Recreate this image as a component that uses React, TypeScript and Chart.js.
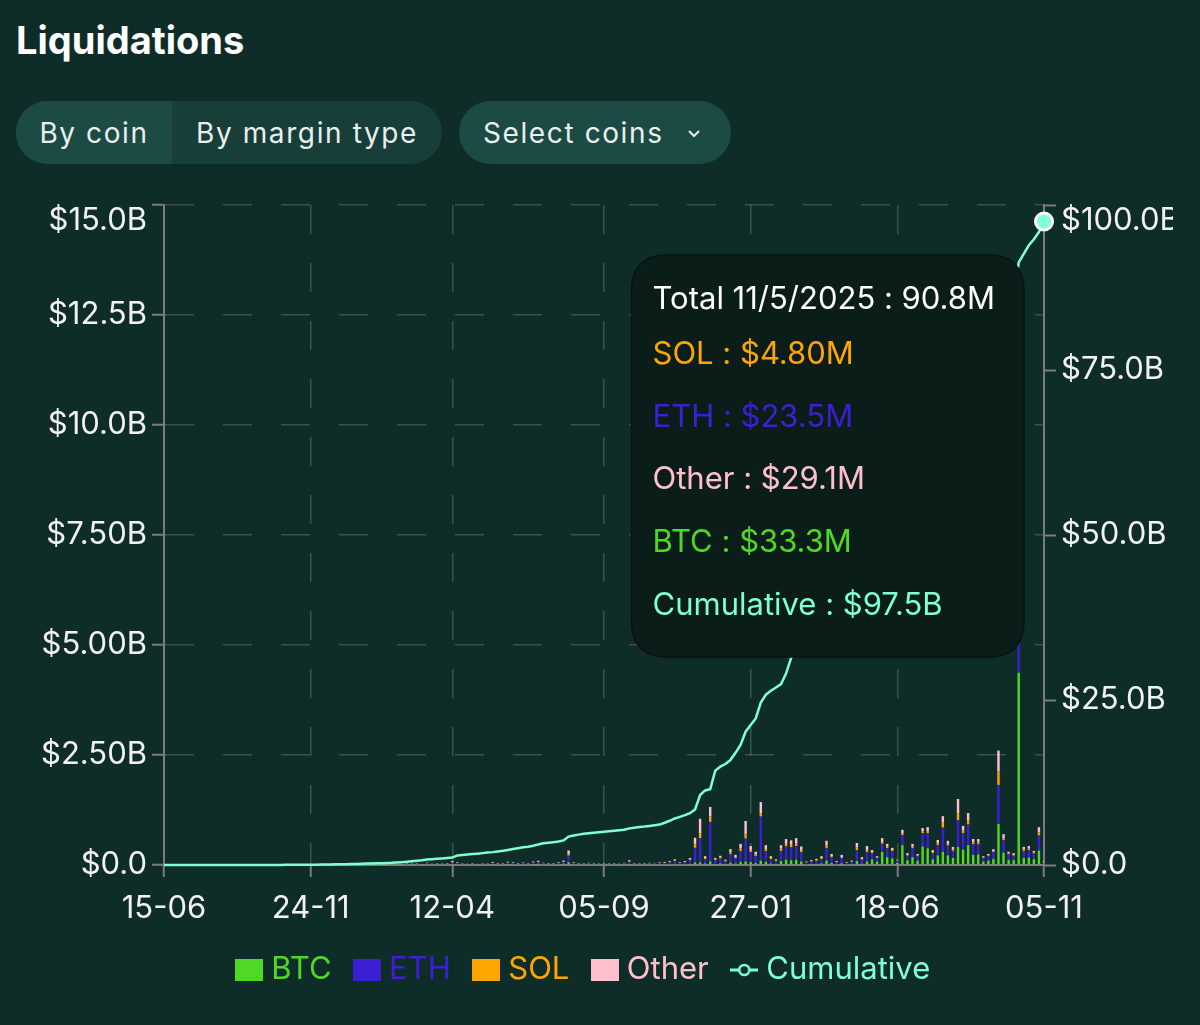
import React, { useEffect, useRef } from "react";
import { Chart, registerables, Tooltip } from "chart.js";

Chart.register(...registerables);

// ---------- data (bar values in $M, cumulative in $B) ----------
const LAST_DATE = "11/5/2025";
const TICK_INDEX = [0, 29, 57, 87, 116, 145, 174];
const TICK_LABELS = ["15-06", "24-11", "12-04", "05-09", "27-01", "18-06", "05-11"];

const BTC = [
  1, 0, 1, 1, 0, 1, 0, 1, 1, 0, 1, 0, 1, 1, 0, 1, 0, 1, 1, 0, 1, 0,
  1, 1, 1, 1, 1, 2, 1, 2, 2, 2, 2, 3, 2, 3, 2, 2, 4, 3, 4, 3, 4, 3, 5, 3, 6, 8,
  14, 9, 11, 8, 16, 8, 10, 9, 12, 25, 18, 10, 8, 12, 8, 10, 9, 20, 11, 13, 22, 18, 12, 16, 10, 24, 28, 15, 12, 10, 18, 30,
  60, 12, 9, 7, 10, 8, 6, 9, 7, 8, 6, 10, 22, 9, 7, 8, 10, 6, 12, 14,
  15, 20, 10, 15, 25, 60, 60, 35, 80, 25, 35, 20, 55, 35, 70, 80, 65, 45, 100, 70,
  35, 25, 90, 120, 110, 120, 80, 15, 20, 25, 35, 100, 45, 15, 40, 12, 18, 90, 30, 80,
  130, 80, 300, 180, 150, 50, 450, 110, 180, 100, 420, 380, 130, 220, 300, 220, 160, 410, 350, 450,
  230, 240, 80, 100, 140, 930, 280, 120, 110, 4370, 160, 170, 130, 330, 33.33,
];
const ETH = [
  0, 1, 1, 0, 1, 0, 1, 0, 1, 1, 0, 1, 0, 0, 1, 1, 0, 0, 1, 1, 0, 1,
  1, 0, 1, 1, 0, 1, 1, 2, 1, 2, 2, 2, 1, 3, 2, 2, 3, 2, 4, 3, 3, 2, 4, 3, 5, 7,
  16, 11, 14, 9, 20, 10, 13, 11, 15, 30, 21, 11, 10, 14, 9, 13, 11, 25, 14, 16, 27, 21, 14, 20, 13, 28, 34, 18, 14, 13, 21, 36,
  150, 27, 20, 16, 23, 18, 14, 20, 16, 18, 14, 23, 50, 20, 16, 18, 23, 14, 27, 31,
  45, 65, 30, 45, 80, 330, 550, 100, 900, 80, 110, 60, 190, 120, 250, 520, 230, 160, 1000, 240,
  100, 65, 230, 300, 290, 310, 210, 40, 55, 70, 100, 280, 125, 45, 115, 35, 50, 250, 90, 215,
  130, 75, 180, 200, 160, 45, 230, 100, 200, 95, 300, 340, 140, 230, 550, 220, 160, 610, 370, 470,
  240, 230, 80, 100, 150, 890, 280, 120, 100, 1400, 160, 170, 130, 340, 23.52,
];
const SOL = [
  0, 0, 0, 0, 0, 0, 0, 0, 0, 0, 0, 0, 0, 0, 0, 0, 0, 0, 0, 0, 0, 0,
  0, 0, 0, 0, 0, 0, 0, 0, 0, 1, 0, 1, 0, 0, 1, 0, 0, 1, 1, 0, 1, 0, 1, 1, 1, 1,
  3, 2, 3, 2, 4, 2, 3, 2, 3, 8, 5, 3, 2, 3, 2, 3, 2, 6, 3, 4, 6, 5, 3, 4, 3, 7, 8, 4, 3, 3, 5, 8,
  30, 6, 5, 3, 5, 4, 3, 5, 3, 4, 3, 5, 11, 5, 3, 4, 5, 3, 6, 7,
  10, 15, 6, 10, 20, 80, 100, 25, 120, 20, 25, 15, 40, 25, 55, 100, 45, 30, 80, 50,
  25, 15, 50, 60, 60, 70, 50, 8, 12, 15, 20, 60, 25, 10, 25, 8, 10, 55, 20, 45,
  30, 15, 40, 35, 30, 10, 45, 20, 35, 20, 40, 50, 25, 45, 110, 40, 35, 160, 60, 100,
  45, 45, 15, 20, 25, 300, 50, 20, 20, 120, 35, 35, 25, 70, 4.804,
];
const OTHER = [
  0, 0, 0, 0, 0, 1, 0, 0, 0, 0, 1, 0, 0, 0, 0, 0, 1, 0, 0, 0, 0, 0,
  1, 1, 2, 1, 1, 2, 2, 2, 2, 2, 2, 2, 2, 3, 2, 2, 3, 2, 3, 3, 3, 3, 4, 3, 4, 6,
  12, 8, 10, 6, 15, 8, 9, 8, 12, 27, 16, 8, 8, 11, 6, 9, 8, 19, 10, 12, 20, 16, 11, 15, 9, 21, 25, 13, 11, 9, 16, 26,
  90, 15, 11, 9, 12, 10, 7, 11, 9, 10, 7, 12, 27, 11, 9, 10, 12, 7, 15, 18,
  20, 30, 14, 20, 35, 150, 340, 40, 220, 35, 40, 25, 75, 50, 105, 300, 90, 65, 250, 90,
  40, 25, 80, 110, 100, 110, 80, 17, 23, 30, 45, 110, 55, 20, 50, 15, 22, 105, 40, 90,
  50, 30, 90, 65, 50, 15, 75, 40, 65, 35, 80, 90, 45, 75, 150, 70, 55, 320, 110, 160,
  75, 75, 25, 30, 45, 480, 90, 40, 40, 150, 55, 55, 35, 120, 29.12,
];
const CUMULATIVE = [
  0, 0, 0, 0, 0, 0, 0, 0, 0, 0, 0, 0, 0, 0, 0, 0, 0, 0, 0, 0, 0, 0,
  0.01, 0.01, 0.02, 0.02, 0.02, 0.03, 0.03,
  0.04, 0.05, 0.06, 0.07, 0.09, 0.1, 0.12, 0.13, 0.15, 0.17, 0.19, 0.21, 0.24, 0.26, 0.28,
  0.31, 0.33, 0.37, 0.42, 0.48, 0.56, 0.64, 0.72, 0.82, 0.88, 0.94, 1.0, 1.06, 1.12,
  1.45, 1.52, 1.58, 1.65, 1.72, 1.8, 1.88, 1.95, 2.05, 2.15, 2.28, 2.42, 2.55, 2.68, 2.78,
  2.92, 3.12, 3.28, 3.38, 3.46, 3.55, 3.72,
  4.3, 4.48, 4.6, 4.72, 4.8, 4.88, 4.96, 5.05, 5.12, 5.2, 5.28, 5.34, 5.55, 5.66, 5.74, 5.82, 5.92, 6.02, 6.12, 6.4,
  6.7, 7.05, 7.3, 7.55, 7.85, 8.4, 10.6, 11.3, 11.5, 14.3, 14.9, 15.3, 15.9, 17.0, 18.2, 20.2, 21.2, 22.2, 24.6, 25.8,
  26.4, 26.9, 27.4, 29.0, 31.4,
  32.6, 33.7, 34.6, 35.4, 36.3, 37.0, 37.7, 38.5, 39.4, 40.8, 42.6, 43.5, 44.3, 45.1, 45.8, 46.6,
  47.4, 48.3, 49.0, 49.8, 50.9, 52.0, 53.0, 54.1, 55.5, 56.8, 58.0, 59.6, 61.0, 62.5, 63.8,
  65.2, 66.9, 68.3, 69.8, 71.2, 72.9, 74.4, 76.8, 78.2, 79.8, 81.6, 83.4, 85.3,
  91.3, 92.6, 93.9, 94.8, 95.9, 97.5,
];
const CATEGORIES = CUMULATIVE.map((_, i) => String(i));

// ---------- styles ----------
const BG = "#0f2d28";
const C_BTC = "#50d826";
const C_ETH = "#3b1fd2";
const C_SOL = "#ffa500";
const C_OTHER = "#ffc0cb";
const C_CUM = "#7fffd4";
const AXIS = "#7c7c7c";
const GRID = "rgba(150,160,158,0.32)";
const TXT = "#f2f2f2";
const FONT = "Inter";

(Tooltip as any).positioners.fixedBox = function () {
  const ca = this.chart.chartArea;
  return { x: ca.right - 56, y: ca.top + 50 };
};

const fmtM = (v: number) => (v >= 1000 ? (v / 1000).toPrecision(3) + "B" : v.toPrecision(3) + "M");

function boxIcon(color: string) {
  const c = document.createElement("canvas");
  c.width = 28;
  c.height = 22;
  const g = c.getContext("2d")!;
  g.fillStyle = color;
  g.fillRect(0, 0, 28, 22);
  return c;
}
function lineIcon(color: string) {
  const c = document.createElement("canvas");
  c.width = 28;
  c.height = 16;
  const g = c.getContext("2d")!;
  g.strokeStyle = color;
  g.lineWidth = 3;
  g.beginPath();
  g.moveTo(0, 8);
  g.lineTo(28, 8);
  g.stroke();
  g.beginPath();
  g.arc(14, 8, 5, 0, Math.PI * 2);
  g.fillStyle = BG;
  g.fill();
  g.lineWidth = 2.6;
  g.stroke();
  return c;
}

export default function App() {
  const ref = useRef<HTMLCanvasElement>(null);

  useEffect(() => {
    let chart: any = null;
    let cancelled = false;
    const LAST = CUMULATIVE.length - 1;
    const build = () => {
      if (cancelled || !ref.current) return;
      const barSets = [
        ["BTC", BTC, C_BTC],
        ["ETH", ETH, C_ETH],
        ["SOL", SOL, C_SOL],
        ["Other", OTHER, C_OTHER],
      ].map(([label, data, color]: any) => ({
        type: "bar",
        label,
        data,
        backgroundColor: color,
        borderWidth: 0,
        stack: "s",
        yAxisID: "y",
        order: 1,
        barPercentage: 0.48,
        categoryPercentage: 1,
      }));
      const legendItems = [
        ...barSets.map((d: any, i: number) => ({
          text: d.label,
          fontColor: d.backgroundColor,
          fillStyle: d.backgroundColor,
          strokeStyle: d.backgroundColor,
          lineWidth: 0,
          hidden: false,
          datasetIndex: i,
          pointStyle: boxIcon(d.backgroundColor),
        })),
        {
          text: "Cumulative",
          fontColor: C_CUM,
          fillStyle: C_CUM,
          strokeStyle: C_CUM,
          lineWidth: 0,
          hidden: false,
          datasetIndex: 4,
          pointStyle: lineIcon(C_CUM),
        },
      ];
      const yFont = { family: FONT, size: 31, lineHeight: 1 };
      chart = new Chart(ref.current, {
        type: "bar",
        data: {
          labels: CATEGORIES,
          datasets: [
            ...barSets,
            {
              type: "line",
              label: "Cumulative",
              data: CUMULATIVE,
              yAxisID: "y1",
              order: 0,
              borderColor: C_CUM,
              backgroundColor: C_CUM,
              borderWidth: 2.5,
              tension: 0,
              clip: false,
              pointRadius: (c: any) => (c.dataIndex === LAST ? 8.5 : 0),
              pointHoverRadius: (c: any) => (c.dataIndex === LAST ? 8.5 : 0),
              pointBackgroundColor: C_CUM,
              pointBorderColor: "#ffffff",
              pointBorderWidth: 3,
            },
          ] as any,
        },
        options: {
          responsive: true,
          maintainAspectRatio: false,
          animation: false,
          events: [],
          layout: { padding: { top: 40, left: 0, right: 0, bottom: 29.5 } },
          scales: {
            x: {
              type: "category",
              stacked: true,
              offset: false,
              grid: {
                display: true,
                offset: false,
                color: GRID,
                lineWidth: 1.5,
                drawTicks: true,
                tickLength: 12,
                tickColor: AXIS,
                tickWidth: 2,
              },
              border: { display: true, color: AXIS, width: 2, dash: [29, 29] },
              ticks: {
                autoSkip: false,
                maxRotation: 0,
                minRotation: 0,
                padding: 13,
                color: TXT,
                font: { family: FONT, size: 31, lineHeight: 1.2 },
                callback: (v: any) => {
                  const k = TICK_INDEX.indexOf(Number(v));
                  return k >= 0 ? TICK_LABELS[k] : "";
                },
              },
              afterBuildTicks: (s: any) => {
                s.ticks = TICK_INDEX.map((v) => ({ value: v }));
              },
              afterFit: (s: any) => {
                s.height = 60.5;
              },
            },
            y: {
              position: "left",
              stacked: true,
              min: 0,
              max: 15000,
              grid: { color: GRID, lineWidth: 1.5, tickLength: 12, tickColor: AXIS, tickWidth: 2 },
              border: { display: true, color: AXIS, width: 2, dash: [29, 29] },
              ticks: {
                stepSize: 2500,
                padding: 5,
                color: TXT,
                font: yFont,
                callback: (v: any) => {
                  const n = Number(v);
                  const s = n === 0 ? "$0.0" : "$" + fmtM(n);
                  return n === 15000 ? ["", s] : s;
                },
              },
              afterFit: (s: any) => {
                s.width = 164;
              },
            },
            y1: {
              position: "right",
              min: 0,
              max: 100,
              grid: {
                drawOnChartArea: false,
                color: "transparent",
                tickLength: 12,
                tickColor: AXIS,
                tickWidth: 2,
              },
              border: { display: true, color: AXIS, width: 2 },
              ticks: {
                stepSize: 25,
                padding: 5,
                color: TXT,
                font: yFont,
                callback: (v: any) => {
                  const n = Number(v);
                  const s = n === 0 ? "$0.0" : "$" + n.toFixed(1) + "B";
                  return n === 100 ? ["", s] : s;
                },
              },
              afterFit: (s: any) => {
                s.width = 129;
              },
            },
          },
          plugins: {
            legend: {
              position: "bottom",
              align: "center",
              labels: {
                usePointStyle: true,
                pointStyleWidth: 13,
                boxHeight: 22,
                padding: 29,
                font: { family: FONT, size: 31 },
                generateLabels: () => legendItems as any,
              },
            },
            tooltip: {
              enabled: true,
              position: "fixedBox" as any,
              xAlign: "right",
              yAlign: "top",
              caretSize: 0,
              caretPadding: 0,
              cornerRadius: 36,
              backgroundColor: "#0b1d19",
              borderColor: "#061310",
              borderWidth: 1.5,
              padding: { top: 25.7, bottom: 33, left: 21, right: 29 },
              titleFont: { family: FONT, size: 31, weight: "normal", lineHeight: 1.2 },
              titleColor: "#ffffff",
              titleMarginBottom: 18,
              bodyFont: { family: FONT, size: 31, lineHeight: 1.2 },
              bodySpacing: 25.5,
              displayColors: false,
              itemSort: (a: any, b: any) => {
                const ca = a.dataset.yAxisID === "y1" ? 1 : 0;
                const cb = b.dataset.yAxisID === "y1" ? 1 : 0;
                if (ca !== cb) return ca - cb;
                return a.raw - b.raw;
              },
              callbacks: {
                title: (items: any[]) => {
                  const i = items[0].dataIndex;
                  const total = BTC[i] + ETH[i] + SOL[i] + OTHER[i];
                  return `Total ${LAST_DATE} : ${fmtM(total)}`;
                },
                label: (c: any) =>
                  c.dataset.yAxisID === "y1"
                    ? `Cumulative : $${Number(c.raw).toFixed(1)}B`
                    : `${c.dataset.label} : $${fmtM(Number(c.raw))}`,
                labelTextColor: (c: any) => (c.dataset.yAxisID === "y1" ? C_CUM : c.dataset.backgroundColor),
              },
            },
          },
        } as any,
      });
      chart.tooltip.setActiveElements(
        [0, 1, 2, 3, 4].map((d) => ({ datasetIndex: d, index: LAST })),
        { x: 0, y: 0 }
      );
      chart.update();
    };
    if ((document as any).fonts && (document as any).fonts.load) {
      Promise.all([
        (document as any).fonts.load(`31px ${FONT}`),
        (document as any).fonts.load(`bold 38px ${FONT}`),
      ]).then(build, build);
    } else build();
    return () => {
      cancelled = true;
      if (chart) chart.destroy();
    };
  }, []);

  const btnText: React.CSSProperties = {
    fontSize: 28,
    letterSpacing: "1.6px",
    color: "#e9efed",
    fontWeight: 400,
  };

  return (
    <div
      style={{
        position: "absolute",
        left: 0,
        top: 0,
        width: 1200,
        height: 1025,
        background: BG,
        overflow: "hidden",
        fontFamily: `${FONT}, sans-serif`,
      }}
    >
      <div
        style={{
          position: "absolute",
          left: 16,
          top: 21,
          fontSize: 38,
          lineHeight: "38px",
          fontWeight: 700,
          color: "#ffffff",
        }}
      >
        Liquidations
      </div>
      <div
        style={{
          position: "absolute",
          left: 16,
          top: 101,
          width: 426,
          height: 63,
          borderRadius: 32,
          overflow: "hidden",
          display: "flex",
          background: "#183e39",
        }}
      >
        <div
          style={{
            width: 156,
            background: "#1b4b44",
            display: "flex",
            alignItems: "center",
            justifyContent: "center",
            ...btnText,
          }}
        >
          By coin
        </div>
        <div
          style={{
            flex: 1,
            display: "flex",
            alignItems: "center",
            justifyContent: "center",
            ...btnText,
          }}
        >
          By margin type
        </div>
      </div>
      <div
        style={{
          position: "absolute",
          left: 459,
          top: 101,
          width: 272,
          height: 63,
          borderRadius: 32,
          background: "#1b4b44",
          display: "flex",
          alignItems: "center",
        }}
      >
        <span style={{ marginLeft: 24, ...btnText }}>Select coins</span>
        <svg
          width="14"
          height="9"
          viewBox="0 0 14 9"
          style={{ position: "absolute", left: 228, top: 28 }}
        >
          <polyline points="2,2 7,7 12,2" fill="none" stroke="#e9efed" strokeWidth="2" />
        </svg>
      </div>
      <div style={{ position: "absolute", left: 0, top: 165, width: 1173, height: 860 }}>
        <canvas ref={ref} />
      </div>
    </div>
  );
}
